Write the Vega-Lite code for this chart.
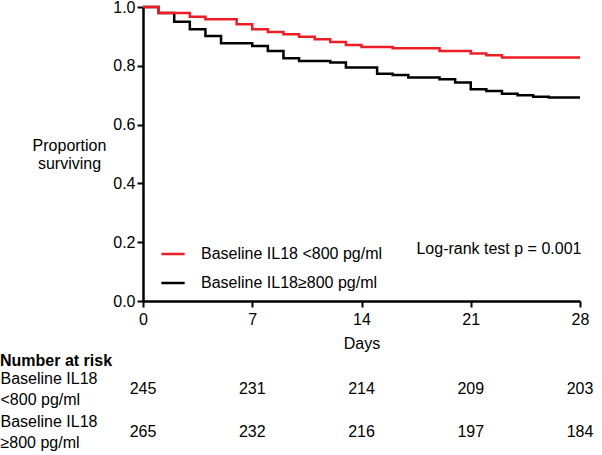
{
  "$schema": "https://vega.github.io/schema/vega-lite/v6.json",
  "padding": {"left": 0, "top": -1, "right": 0, "bottom": 0},
  "background": "white",
  "spacing": 2,
  "config": {
    "font": "Liberation Sans",
    "view": {"stroke": null},
    "axis": {"grid": false, "labelColor": "black", "titleColor": "black", "domainColor": "black", "tickColor": "black", "labelFontSize": 16, "titleFontSize": 16, "titleFontWeight": "normal"},
    "text": {"fontSize": 16, "color": "black"}
  },
  "vconcat": [
    {
      "width": 437,
      "height": 294,
      "layer": [
        {
          "data": {"values": [
            {"group": "Baseline IL18≥800 pg/ml", "day": 0, "surv": 1.0},
            {"group": "Baseline IL18≥800 pg/ml", "day": 1, "surv": 0.980},
            {"group": "Baseline IL18≥800 pg/ml", "day": 2, "surv": 0.950},
            {"group": "Baseline IL18≥800 pg/ml", "day": 3, "surv": 0.924},
            {"group": "Baseline IL18≥800 pg/ml", "day": 4, "surv": 0.901},
            {"group": "Baseline IL18≥800 pg/ml", "day": 5, "surv": 0.877},
            {"group": "Baseline IL18≥800 pg/ml", "day": 7, "surv": 0.867},
            {"group": "Baseline IL18≥800 pg/ml", "day": 8, "surv": 0.850},
            {"group": "Baseline IL18≥800 pg/ml", "day": 9, "surv": 0.826},
            {"group": "Baseline IL18≥800 pg/ml", "day": 10, "surv": 0.816},
            {"group": "Baseline IL18≥800 pg/ml", "day": 12, "surv": 0.811},
            {"group": "Baseline IL18≥800 pg/ml", "day": 13, "surv": 0.794},
            {"group": "Baseline IL18≥800 pg/ml", "day": 15, "surv": 0.773},
            {"group": "Baseline IL18≥800 pg/ml", "day": 16, "surv": 0.769},
            {"group": "Baseline IL18≥800 pg/ml", "day": 17, "surv": 0.760},
            {"group": "Baseline IL18≥800 pg/ml", "day": 19, "surv": 0.754},
            {"group": "Baseline IL18≥800 pg/ml", "day": 20, "surv": 0.743},
            {"group": "Baseline IL18≥800 pg/ml", "day": 21, "surv": 0.720},
            {"group": "Baseline IL18≥800 pg/ml", "day": 22, "surv": 0.714},
            {"group": "Baseline IL18≥800 pg/ml", "day": 23, "surv": 0.705},
            {"group": "Baseline IL18≥800 pg/ml", "day": 24, "surv": 0.700},
            {"group": "Baseline IL18≥800 pg/ml", "day": 25, "surv": 0.695},
            {"group": "Baseline IL18≥800 pg/ml", "day": 26, "surv": 0.692},
            {"group": "Baseline IL18≥800 pg/ml", "day": 28, "surv": 0.692}
          ]},
          "mark": {"type": "line", "interpolate": "step-after", "strokeWidth": 2.5},
          "encoding": {
            "x": {
              "field": "day", "type": "quantitative",
              "scale": {"domain": [0, 28], "nice": false},
              "axis": {"values": [0, 7, 14, 21, 28], "title": "Days", "tickSize": 6, "tickWidth": 2, "domainWidth": 2.5, "labelPadding": 4, "titlePadding": 8, "labelFlush": false}
            },
            "y": {
              "field": "surv", "type": "quantitative",
              "scale": {"domain": [0, 1], "nice": false},
              "axis": {"values": [0, 0.2, 0.4, 0.6, 0.8, 1.0], "format": ".1f", "tickSize": 6, "tickWidth": 2, "domainWidth": 2.5, "labelPadding": 2,
                       "title": ["Proportion", "surviving"], "titleAngle": 0, "titleAlign": "center", "titleBaseline": "middle", "titleX": -74, "titleY": 138, "titleLineHeight": 18}
            },
            "color": {"field": "group", "type": "nominal",
              "scale": {"domain": ["Baseline IL18 <800 pg/ml", "Baseline IL18≥800 pg/ml"], "range": ["#ee1c25", "#000000"]},
              "legend": {"orient": "none", "legendX": 17, "legendY": 234, "title": null, "symbolType": "stroke", "symbolSize": 543, "symbolStrokeWidth": 2.5, "labelFontSize": 16, "labelColor": "black", "rowPadding": 8, "labelOffset": 15, "padding": 0, "labelLimit": 300}}
          }
        },
        {
          "data": {"values": [
            {"group": "Baseline IL18 <800 pg/ml", "day": 0, "surv": 1.0},
            {"group": "Baseline IL18 <800 pg/ml", "day": 1, "surv": 0.980},
            {"group": "Baseline IL18 <800 pg/ml", "day": 3, "surv": 0.967},
            {"group": "Baseline IL18 <800 pg/ml", "day": 4, "surv": 0.958},
            {"group": "Baseline IL18 <800 pg/ml", "day": 6, "surv": 0.941},
            {"group": "Baseline IL18 <800 pg/ml", "day": 7, "surv": 0.924},
            {"group": "Baseline IL18 <800 pg/ml", "day": 8, "surv": 0.915},
            {"group": "Baseline IL18 <800 pg/ml", "day": 9, "surv": 0.907},
            {"group": "Baseline IL18 <800 pg/ml", "day": 10, "surv": 0.899},
            {"group": "Baseline IL18 <800 pg/ml", "day": 11, "surv": 0.890},
            {"group": "Baseline IL18 <800 pg/ml", "day": 12, "surv": 0.881},
            {"group": "Baseline IL18 <800 pg/ml", "day": 13, "surv": 0.871},
            {"group": "Baseline IL18 <800 pg/ml", "day": 14, "surv": 0.864},
            {"group": "Baseline IL18 <800 pg/ml", "day": 16, "surv": 0.860},
            {"group": "Baseline IL18 <800 pg/ml", "day": 19, "surv": 0.850},
            {"group": "Baseline IL18 <800 pg/ml", "day": 21, "surv": 0.842},
            {"group": "Baseline IL18 <800 pg/ml", "day": 22, "surv": 0.836},
            {"group": "Baseline IL18 <800 pg/ml", "day": 23, "surv": 0.828},
            {"group": "Baseline IL18 <800 pg/ml", "day": 28, "surv": 0.828}
          ]},
          "mark": {"type": "line", "interpolate": "step-after", "strokeWidth": 2.5},
          "encoding": {
            "x": {"field": "day", "type": "quantitative"},
            "y": {"field": "surv", "type": "quantitative"},
            "color": {"field": "group", "type": "nominal"}
          }
        },
        {
          "data": {"values": [{"label": "Log-rank test p = 0.001"}]},
          "mark": {"type": "text", "align": "left", "baseline": "middle", "fontSize": 16, "color": "black"},
          "encoding": {
            "x": {"datum": 17.52},
            "y": {"datum": 0.178},
            "text": {"field": "label", "type": "nominal"}
          }
        }
      ]
    },
    {
      "width": 437,
      "height": 86,
      "title": {"text": "Number at risk", "anchor": "start", "frame": "bounds", "fontSize": 16, "fontWeight": "bold", "color": "black", "baseline": "alphabetic", "offset": -15},
      "data": {"values": [
        {"row": "r1", "day": 0, "n": 245},
        {"row": "r1", "day": 7, "n": 231},
        {"row": "r1", "day": 14, "n": 214},
        {"row": "r1", "day": 21, "n": 209},
        {"row": "r1", "day": 28, "n": 203},
        {"row": "r2", "day": 0, "n": 265},
        {"row": "r2", "day": 7, "n": 232},
        {"row": "r2", "day": 14, "n": 216},
        {"row": "r2", "day": 21, "n": 197},
        {"row": "r2", "day": 28, "n": 184}
      ]},
      "mark": {"type": "text", "fontSize": 16, "align": "center", "baseline": "middle"},
      "encoding": {
        "x": {"field": "day", "type": "quantitative", "scale": {"domain": [0, 28], "nice": false}, "axis": null},
        "y": {"field": "row", "type": "nominal", "scale": {"domain": ["r1", "r2"], "padding": 0.5},
          "axis": {"title": null, "ticks": false, "tickSize": 0, "domain": false, "labelAlign": "left", "labelBaseline": "middle", "labelPadding": 143, "labelFontSize": 16, "labelLineHeight": 21, "labelLimit": 200, "labelOffset": -10.5,
                   "labelExpr": "datum.value == 'r1' ? ['Baseline IL18', '<800 pg/ml'] : ['Baseline IL18', '≥800 pg/ml']"}},
        "text": {"field": "n"}
      }
    }
  ]
}
